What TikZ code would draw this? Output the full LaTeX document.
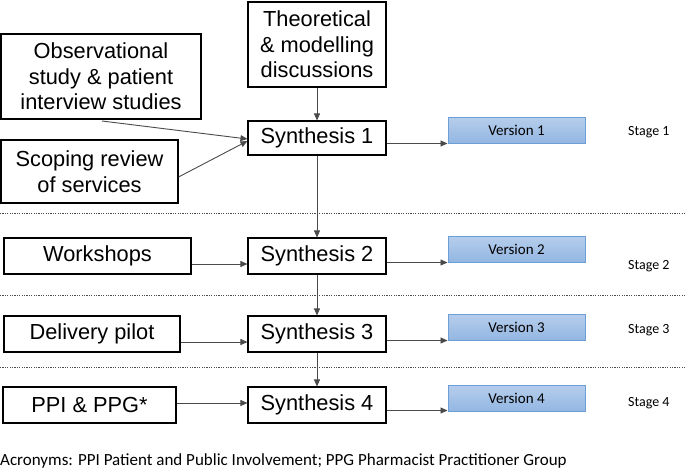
\documentclass[tikz,border=0pt]{standalone}
\usepackage{fontspec}
\setmainfont{Liberation Sans}
\newfontfamily\calfont{Carlito}
\usetikzlibrary{arrows.meta}
\definecolor{arr}{HTML}{4A4A4A}
\definecolor{vtop}{HTML}{B6CEEC}
\definecolor{vbot}{HTML}{93B6E2}
\definecolor{vedge}{HTML}{6C9FD8}
\tikzset{
  x=1pt,y=-1pt,
  box/.style={draw=black,line width=1.1pt,align=center,inner sep=0pt,
    font=\fontsize{21.8}{25.5}\selectfont},
  ver/.style={draw=vedge,line width=1pt,top color=vtop,bottom color=vbot,
    minimum width=137pt,minimum height=26pt,inner sep=0pt,
    font=\calfont\fontsize{15}{17}\selectfont},
  stg/.style={anchor=west,inner sep=0pt,font=\calfont\fontsize{14}{16}\selectfont},
  conn/.style={draw=arr,line width=0.9pt,-{Triangle[length=7pt,width=6pt]}},
  sep/.style={draw=black!70,line width=0.8pt,dash pattern=on 1.2pt off 1.2pt},
}
\begin{document}
\begin{tikzpicture}
\useasboundingbox (0,0) rectangle (685,472);
% boxes
\node[box,minimum width=138pt,minimum height=85pt] (theo) at (317,44.5) {Theoretical\\\& modelling\\discussions};
\node[box,minimum width=200pt,minimum height=85pt] (obs) at (101,76.5) {Observational\\study \& patient\\interview studies};
\node[box,minimum width=177pt,minimum height=63pt] (scop) at (89.5,171.5) {Scoping review\\of services};
\node[box,minimum width=138pt,minimum height=34pt] (s1) at (317,138) {Synthesis 1};
\node[box,minimum width=138pt,minimum height=36pt] (s2) at (317,256) {Synthesis 2};
\node[box,minimum width=138pt,minimum height=36pt] (s3) at (317,334) {Synthesis 3};
\node[box,minimum width=138pt,minimum height=36pt] (s4) at (317,405) {Synthesis 4};
\node[box,minimum width=187pt,minimum height=36pt] (ws) at (97.5,256) {Workshops};
\node[box,minimum width=176pt,minimum height=36pt] (dp) at (92,334) {Delivery pilot};
\node[box,minimum width=173pt,minimum height=36pt] (ppi) at (89.5,405) {PPI \& PPG*};
% versions
\node[ver] (v1) at (516.5,130) {Version 1};
\node[ver] (v2) at (516.5,249) {Version 2};
\node[ver] (v3) at (516.5,327) {Version 3};
\node[ver] (v4) at (516.5,398) {Version 4};
\node[stg] (st1) at (628,132) {Stage 1};
\node[stg] (st2) at (628,266) {Stage 2};
\node[stg] (st3) at (628,330) {Stage 3};
\node[stg] (st4) at (628,403) {Stage 4};
% separators
\coordinate (d1a) at (0,213); \coordinate (d1b) at (685,213);
\coordinate (d2a) at (0,295); \coordinate (d2b) at (685,295);
\coordinate (d3a) at (0,367); \coordinate (d3b) at (685,367);
\draw[sep] (d1a) -- (d1b);
\draw[sep] (d2a) -- (d2b);
\draw[sep] (d3a) -- (d3b);
% connectors
\coordinate (o1) at (102,121);
\draw[conn] (o1) -- (s1.west |- 0,139);
\draw[conn] (scop.east |- 0,177) -- (s1.west |- 0,141);
\draw[conn] (theo) -- (s1);
\draw[conn] (s1) -- (s2);
\draw[conn] (s2) -- (s3);
\draw[conn] (s3) -- (s4);
\draw[conn] (s1.east |- 0,143.5) -- (v1.west |- 0,143.5);
\draw[conn] (s2.east |- 0,262.5) -- (v2.west |- 0,262.5);
\draw[conn] (s3.east |- 0,340.5) -- (v3.west |- 0,340.5);
\draw[conn] (s4.east |- 0,410.5) -- (v4.west |- 0,410.5);
\draw[conn] (ws.east |- 0,264) -- (s2.west |- 0,264);
\draw[conn] (dp.east |- 0,342) -- (s3.west |- 0,342);
\draw[conn] (ppi.east |- 0,403) -- (s4.west |- 0,403);
% footnote
\node[anchor=west,inner sep=0pt,font=\calfont\fontsize{17}{19}\selectfont] (acr) at (0,461) {Acronyms: PPI Patient and Public Involvement; PPG Pharmacist Practitioner Group};
\end{tikzpicture}
\end{document}
